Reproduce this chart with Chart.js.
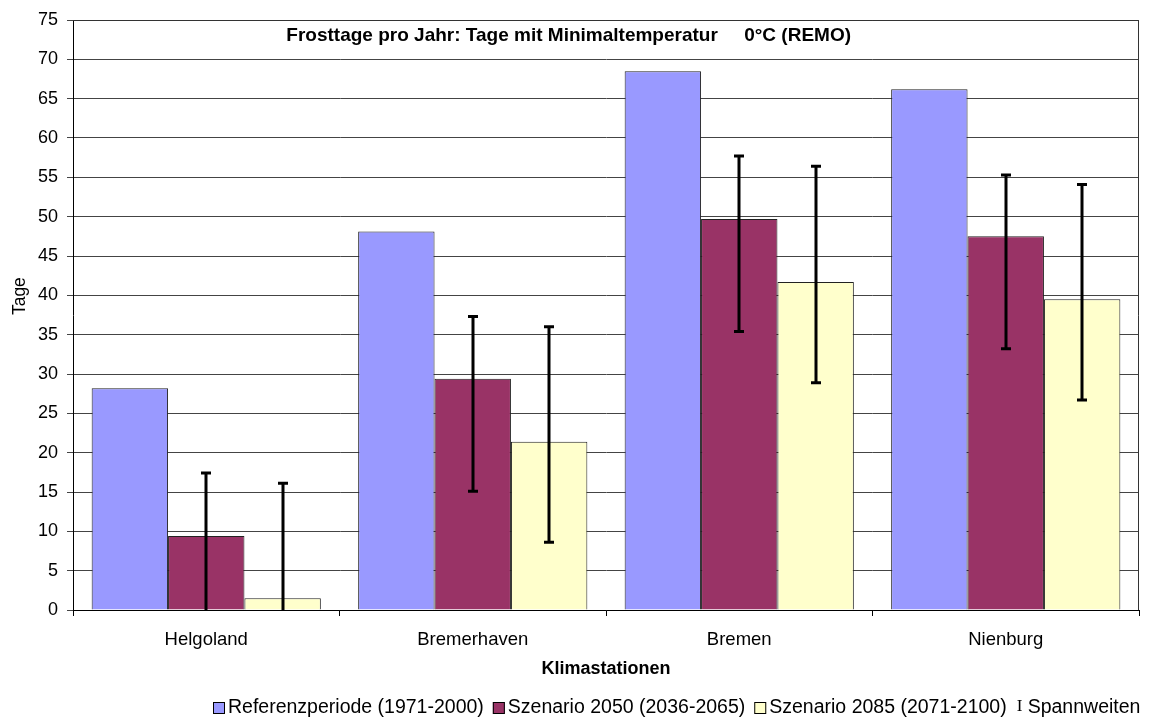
<!DOCTYPE html>
<html>
<head>
<meta charset="utf-8">
<script src="https://cdn.jsdelivr.net/npm/chart.js@4/dist/chart.umd.min.js"></script>
<style>
  html, body { margin: 0; padding: 0; background: #fff; }
  #wrap { width: 1153px; height: 720px; }
</style>
</head>
<body>
<div id="wrap"><canvas id="frostChart"></canvas></div>
<script>
// Stations and series
var stations = ['Helgoland', 'Bremerhaven', 'Bremen', 'Nienburg'];
var seriesNames = ['Referenzperiode (1971-2000)', 'Szenario 2050 (2036-2065)', 'Szenario 2085 (2071-2100)'];
var rangeLabel = 'Spannweiten';
var yTitle = 'Tage';

// Frost days per year
var refData   = [28.2, 48.1, 68.5, 66.2];
var s2050Data = [9.4, 29.4, 49.7, 47.5];
var s2085Data = [1.5, 21.4, 41.7, 39.5];

// ranges (Spannweiten) for the scenarios
var s2050Low  = [0, 15.1, 35.4, 33.2];
var s2050High = [17.4, 37.3, 57.7, 55.3];
var s2085Low  = [0, 8.6, 28.9, 26.7];
var s2085High = [16.1, 36.0, 56.4, 54.1];

// y axis ticks
var yMin = 0, yMax = 75, yStep = 5;

var FONT = "'Liberation Sans', Arial, sans-serif";
var colors = ['#9999FF', '#993366', '#FFFFCC'];

// draws the range whiskers on top of the scenario bars
var rangeBars = {
    id: 'rangeBars',
    afterDatasetsDraw: function (chart) {
        var ctx = chart.ctx, y = chart.scales.y;
        var ranges = { 1: [s2050Low, s2050High], 2: [s2085Low, s2085High] };
        ctx.save();
        ctx.strokeStyle = '#000';
        ctx.lineWidth = 3;
        Object.keys(ranges).forEach(function (di) {
            var meta = chart.getDatasetMeta(+di);
            meta.data.forEach(function (bar, i) {
                var lo = ranges[di][0][i], hi = ranges[di][1][i];
                var x = Math.round(bar.x);
                var yLo = y.getPixelForValue(lo), yHi = y.getPixelForValue(hi);
                ctx.beginPath();
                ctx.moveTo(x, yLo);
                ctx.lineTo(x, yHi);
                ctx.moveTo(x - 5, yHi);
                ctx.lineTo(x + 5, yHi);
                if (lo > yMin) {
                    ctx.moveTo(x - 5, yLo);
                    ctx.lineTo(x + 5, yLo);
                }
                ctx.stroke();
            });
        });
        ctx.restore();
    }
};

// frame + title inside the plot area + y axis title
var frameAndTitle = {
    id: 'frameAndTitle',
    afterDraw: function (chart) {
        var ctx = chart.ctx, a = chart.chartArea;
        ctx.save();
        ctx.strokeStyle = '#333';
        ctx.lineWidth = 1;
        ctx.beginPath();
        ctx.moveTo(a.left, a.top + 0.5);
        ctx.lineTo(a.right - 0.5, a.top + 0.5);
        ctx.lineTo(a.right - 0.5, a.bottom);
        ctx.stroke();
        ctx.fillStyle = '#000';
        ctx.font = 'bold 19px ' + FONT;
        ctx.textAlign = 'center';
        ctx.textBaseline = 'middle';
        ctx.fillText('Frosttage pro Jahr: Tage mit Minimaltemperatur     0°C (REMO)', a.left + a.width * 0.465, a.top + 16);

        // "Tage", rotated, a bit above the middle like the original
        ctx.translate(20, a.top + a.height * 0.468);
        ctx.rotate(-Math.PI / 2);
        ctx.font = '17.5px ' + FONT;
        ctx.fillText(yTitle, 0, 0);
        ctx.restore();
    }
};

// legend row at the bottom, boxes right next to the text
var bottomLegend = {
    id: 'bottomLegend',
    afterDraw: function (chart) {
        var ctx = chart.ctx;
        var y = chart.height - 12;
        var x = 213;
        ctx.save();
        ctx.font = '19.5px ' + FONT;
        ctx.textBaseline = 'middle';
        ctx.textAlign = 'left';
        ctx.fillStyle = '#000';
        seriesNames.forEach(function (name, i) {
            ctx.fillStyle = colors[i];
            ctx.fillRect(x, y - 6, 12, 12);
            ctx.strokeStyle = '#000';
            ctx.lineWidth = 1;
            ctx.strokeRect(x + 0.5, y - 5.5, 11, 11);
            ctx.fillStyle = '#000';
            ctx.fillText(name, x + 15, y);
            x += 15 + ctx.measureText(name).width + 9;
        });
        ctx.font = "17px 'Liberation Serif', 'DejaVu Serif', serif";
        ctx.textAlign = 'center';
        ctx.fillText('I', x + 4, y - 1);
        ctx.font = '19.5px ' + FONT;
        ctx.textAlign = 'left';
        ctx.fillText(rangeLabel, x + 12, y);
        ctx.restore();
    }
};

var ctx = document.getElementById('frostChart').getContext('2d');
var chart = new Chart(ctx, {
    type: 'bar',
    data: {
        labels: stations,
        datasets: [
            { label: seriesNames[0], data: refData,   backgroundColor: colors[0], borderColor: '#222', borderWidth: 1 },
            { label: seriesNames[1], data: s2050Data, backgroundColor: colors[1], borderColor: '#222', borderWidth: 1 },
            { label: seriesNames[2], data: s2085Data, backgroundColor: colors[2], borderColor: '#222', borderWidth: 1 }
        ]
    },
    options: {
        responsive: true,
        maintainAspectRatio: false,
        animation: false,
        layout: { padding: { top: 20, right: 14, left: 0, bottom: 30 } },
        datasets: { bar: { categoryPercentage: 0.86, barPercentage: 1.0 } },
        scales: {
            x: {
                grid: { display: true, offset: true, drawOnChartArea: false, tickLength: 6, color: '#000' },
                border: { color: '#000', width: 1 },
                ticks: { color: '#000', font: { family: FONT, size: 18.5 }, padding: 13 },
                title: { display: true, text: 'Klimastationen', color: '#000', font: { family: FONT, size: 18, weight: 'bold' }, padding: { top: 0, bottom: 10 } },
                afterFit: function (s) { s.height = 80; }
            },
            y: {
                min: yMin, max: yMax,
                ticks: { stepSize: yStep, color: '#000', font: { family: FONT, size: 18 }, padding: 9 },
                grid: { color: '#444', tickLength: 6 },
                border: { color: '#000', width: 1 },
                title: { display: false },
                afterFit: function (s) { s.width = 73; }
            }
        },
        plugins: {
            legend: { display: false },
            tooltip: { enabled: false }
        }
    },
    plugins: [rangeBars, frameAndTitle, bottomLegend]
});
</script>
</body>
</html>
